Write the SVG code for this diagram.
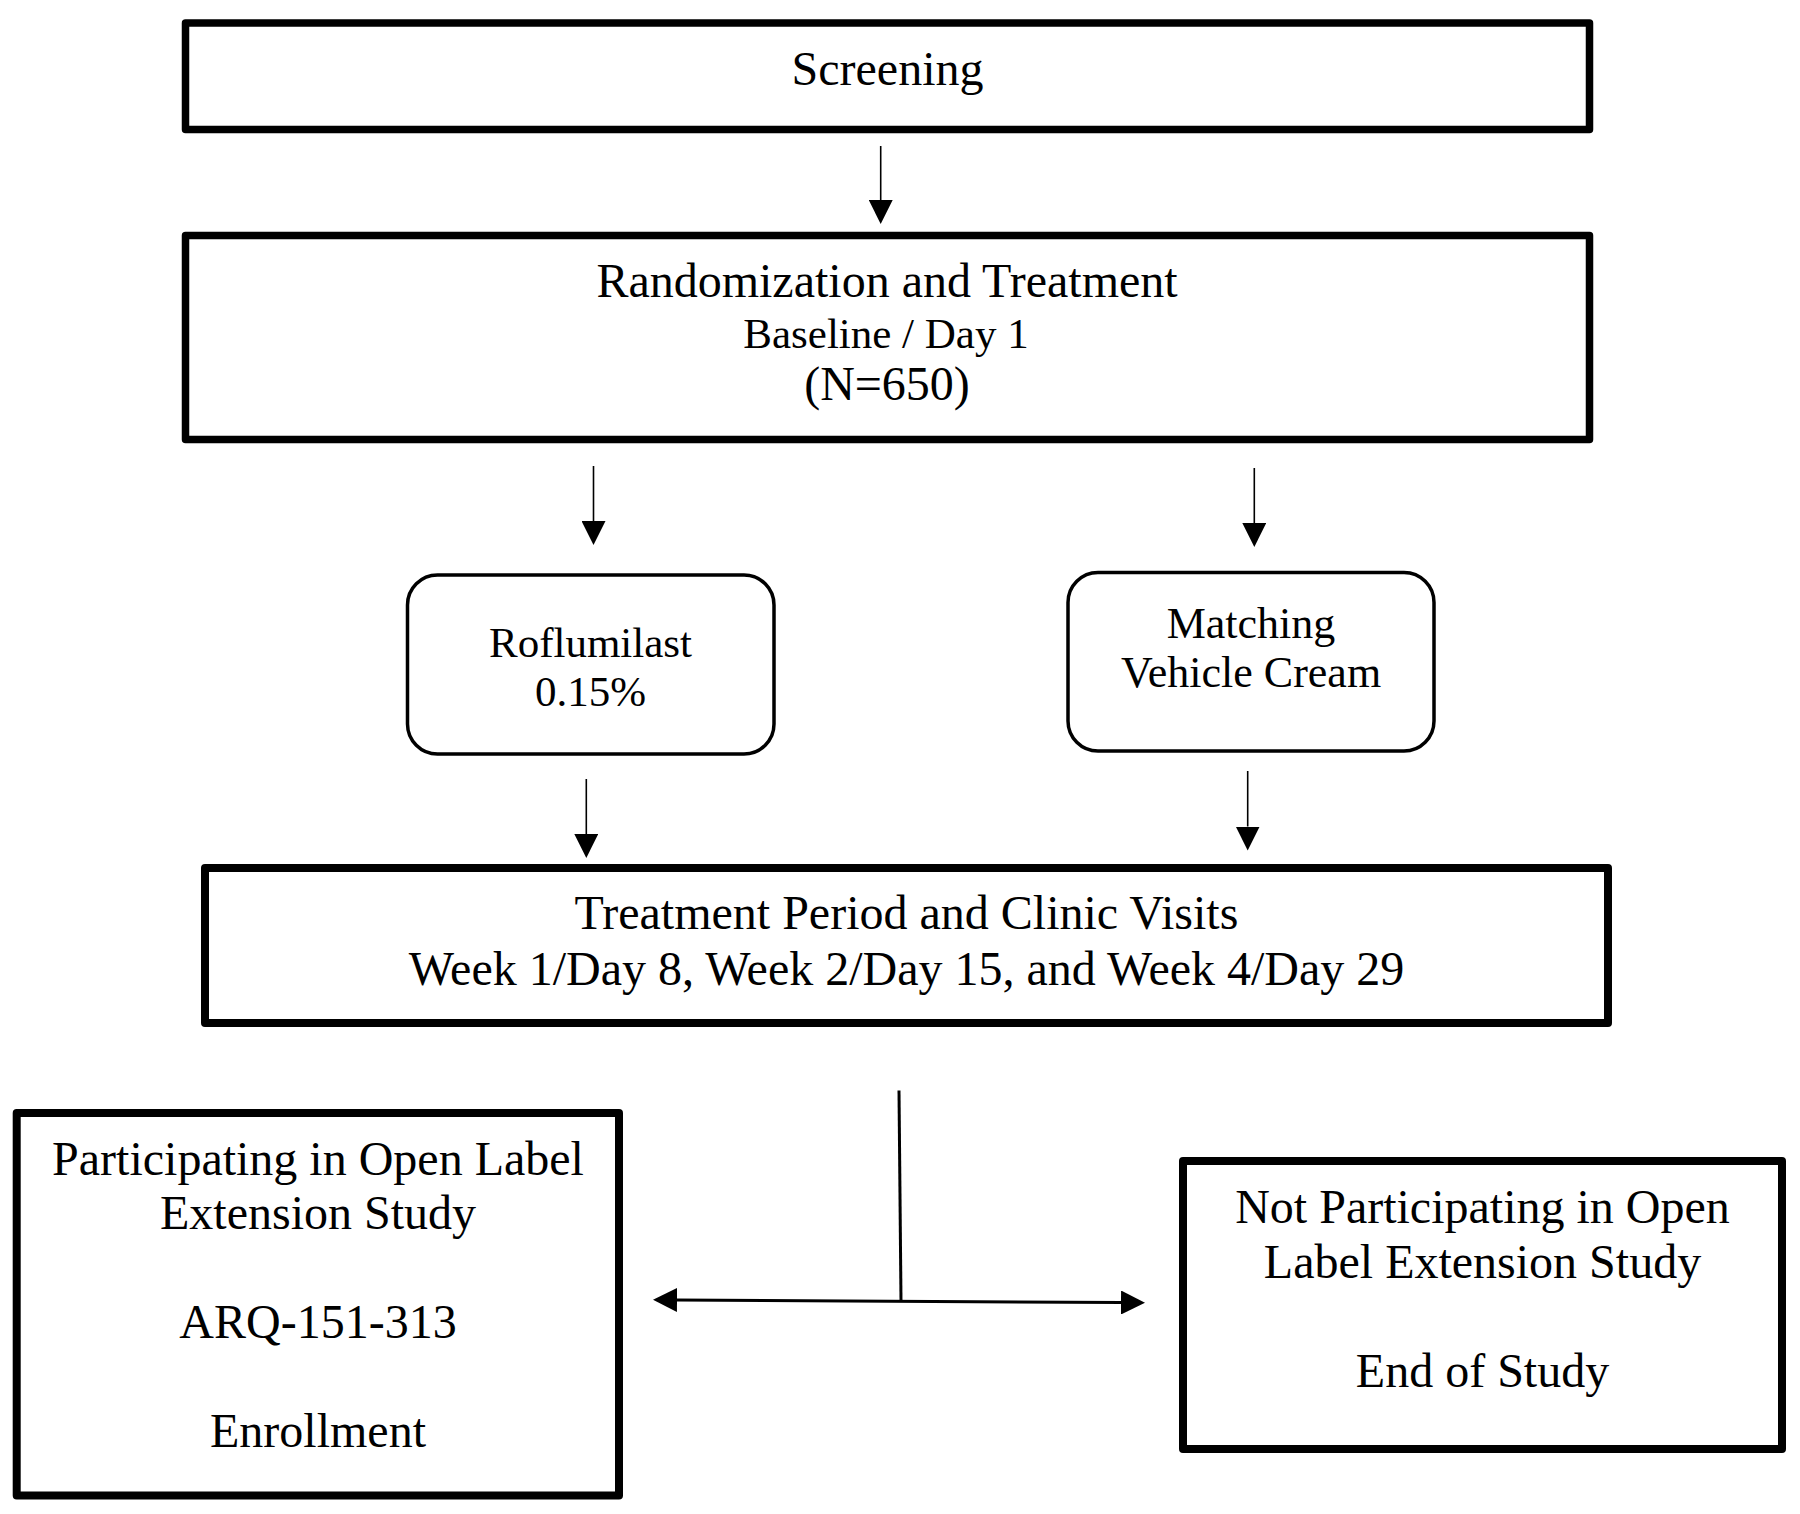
<svg xmlns="http://www.w3.org/2000/svg" width="1800" height="1514" viewBox="0 0 1800 1514">
<style>
  .box { fill: #ffffff; stroke: #000000; stroke-width: 7.5; stroke-linejoin: round; }
  .rbox { fill: #ffffff; stroke: #000000; stroke-width: 3.5; }
  .t { font-family: "Liberation Serif", "Times New Roman", serif; fill: #000000; text-anchor: middle; }
  .big { font-size: 48px; }
  .mid { font-size: 43px; }
  .conn { stroke: #000000; stroke-width: 1.6; fill: none; }
  .conn3 { stroke: #000000; stroke-width: 3; fill: none; }
</style>
<defs>
  <marker id="ah" markerUnits="userSpaceOnUse" markerWidth="24" markerHeight="24" refX="0" refY="11.5" orient="auto-start-reverse" viewBox="0 0 23 23">
    <path d="M0,0 L23,11.5 L0,23 z" fill="#000000"/>
  </marker>
</defs>
<rect width="1800" height="1514" fill="#ffffff"/>

<g id="screening">
  <rect class="box" x="185.5" y="23" width="1404" height="106.5"/>
  <text class="t big" x="887.5" y="85">Screening</text>
</g>

<g id="randomization">
  <rect class="box" x="185.5" y="235.5" width="1404" height="204"/>
  <text class="t big" x="887" y="296.7">Randomization and Treatment</text>
  <text class="t mid" x="886" y="348">Baseline / Day 1</text>
  <text class="t big" x="887" y="400">(N=650)</text>
</g>

<g id="roflumilast">
  <rect class="rbox" x="407.5" y="575" width="366.5" height="179" rx="30" ry="30"/>
  <text class="t mid" x="590.5" y="656.7">Roflumilast</text>
  <text class="t mid" x="590.5" y="705.7">0.15%</text>
</g>

<g id="vehicle">
  <rect class="rbox" x="1068" y="572.5" width="366" height="178.5" rx="30" ry="30"/>
  <text class="t mid" x="1251" y="638.3" style="font-size:44px">Matching</text>
  <text class="t mid" x="1251" y="686.7" style="font-size:44px">Vehicle Cream</text>
</g>

<g id="treatment-period">
  <rect class="box" x="205" y="868" width="1403" height="155" style="stroke-width:8"/>
  <text class="t big" x="906.5" y="929">Treatment Period and Clinic Visits</text>
  <text class="t big" x="906.5" y="985">Week 1/Day 8, Week 2/Day 15, and Week 4/Day 29</text>
</g>

<g id="ole-participating">
  <rect class="box" x="16.7" y="1113" width="602.3" height="382.5" style="stroke-width:8"/>
  <text class="t big" x="318" y="1175">Participating in Open Label</text>
  <text class="t big" x="318" y="1229.3">Extension Study</text>
  <text class="t big" x="318" y="1338.3">ARQ-151-313</text>
  <text class="t big" x="318" y="1446.7">Enrollment</text>
</g>

<g id="ole-not-participating">
  <rect class="box" x="1183" y="1161" width="599" height="288" style="stroke-width:8"/>
  <text class="t big" x="1482.5" y="1223.3">Not Participating in Open</text>
  <text class="t big" x="1482.5" y="1278.3">Label Extension Study</text>
  <text class="t big" x="1482.5" y="1387.3">End of Study</text>
</g>

<g id="connectors">
  <line class="conn" x1="880.7" y1="146" x2="880.7" y2="200" marker-end="url(#ah)"/>
  <line class="conn" x1="593.5" y1="466" x2="593.5" y2="521" marker-end="url(#ah)"/>
  <line class="conn" x1="1254.3" y1="468" x2="1254.3" y2="523" marker-end="url(#ah)"/>
  <line class="conn" x1="586.3" y1="779" x2="586.3" y2="834" marker-end="url(#ah)"/>
  <line class="conn" x1="1247.7" y1="771" x2="1247.7" y2="826.5" marker-end="url(#ah)"/>
  <line class="conn3" x1="899" y1="1090.5" x2="901" y2="1301"/>
  <line class="conn3" x1="677" y1="1300" x2="1121" y2="1302.5" marker-start="url(#ah)" marker-end="url(#ah)"/>
</g>
</svg>
